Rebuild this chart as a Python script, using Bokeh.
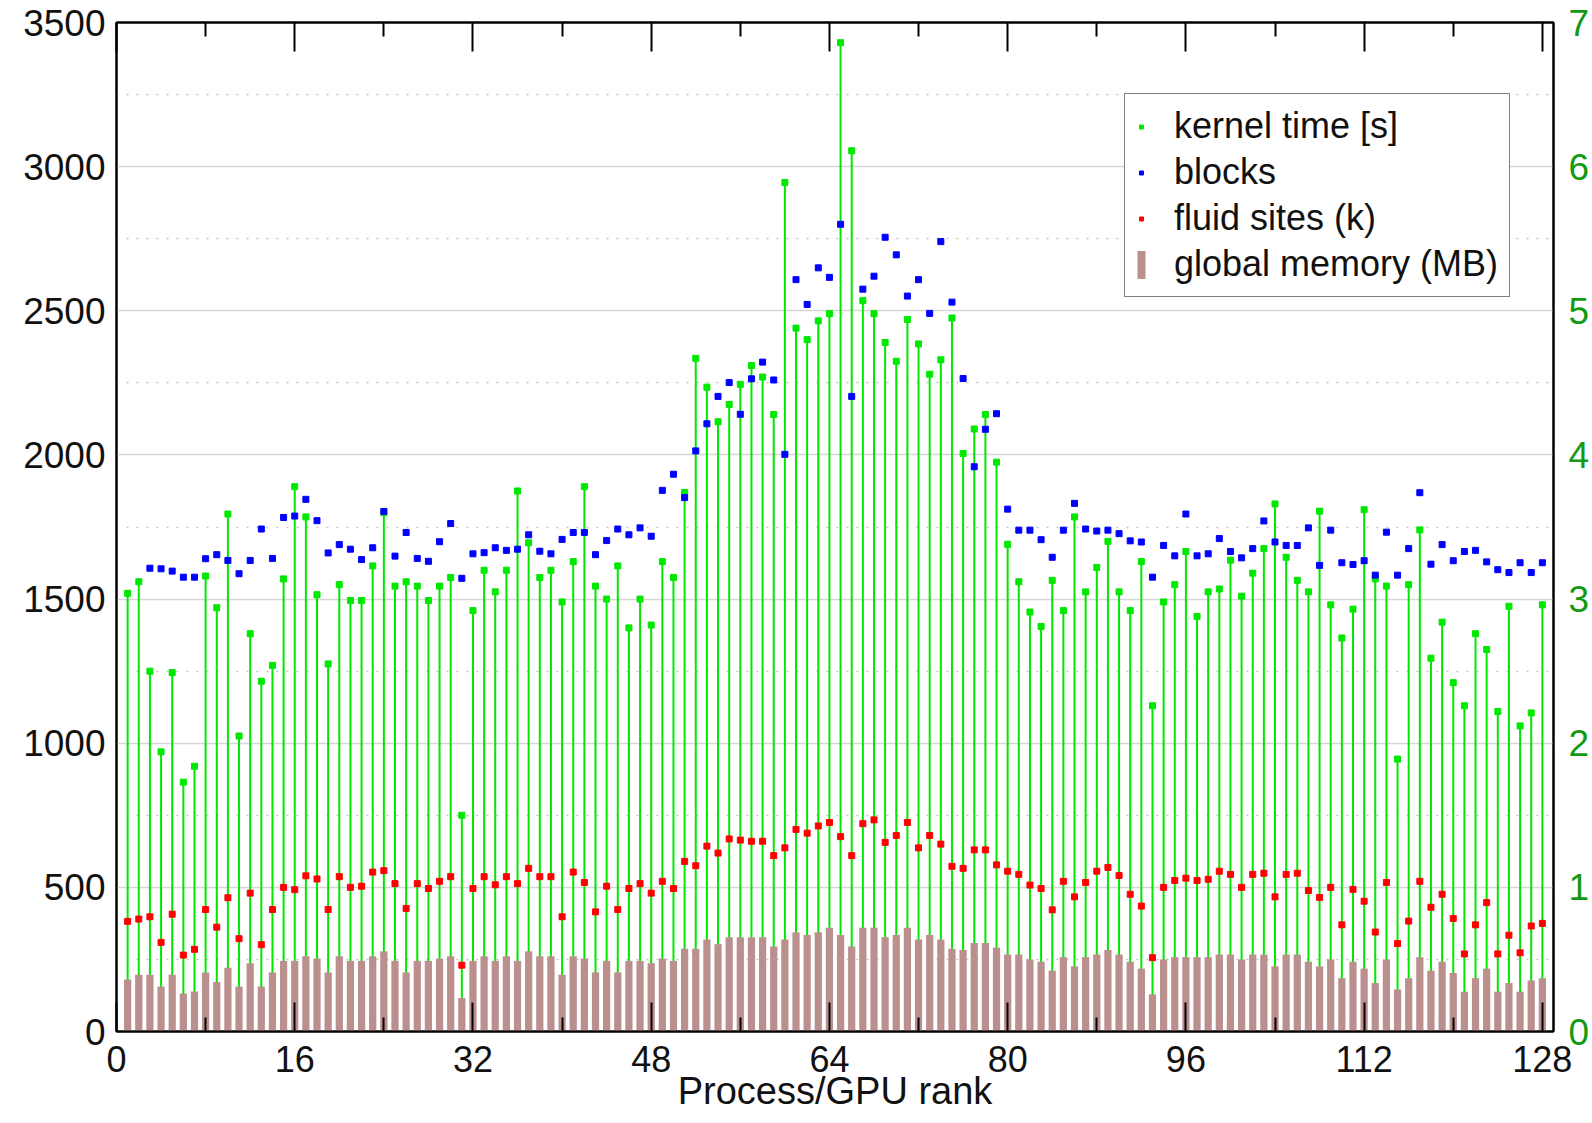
import numpy as np
from bokeh.plotting import figure
from bokeh.models import (Range1d, LinearAxis, FixedTicker, ColumnDataSource,
                          Legend, LegendItem, CustomLabelingPolicy)
from bokeh.embed import file_html
from bokeh.resources import INLINE

# ---------------- data ----------------
rank = list(range(1, 129))

kernel_time_s = [
    3.04, 3.12, 2.50, 1.94, 2.49, 1.73, 1.84, 3.16, 2.94, 3.59,
    2.05, 2.76, 2.43, 2.54, 3.14, 3.78, 3.57, 3.03, 2.55, 3.10,
    2.99, 2.99, 3.23, 3.60, 3.09, 3.12, 3.09, 2.99, 3.09, 3.15,
    1.50, 2.92, 3.20, 3.05, 3.20, 3.75, 3.39, 3.15, 3.20, 2.98,
    3.26, 3.78, 3.09, 3.00, 3.23, 2.80, 3.00, 2.82, 3.26, 3.15,
    3.74, 4.67, 4.47, 4.23, 4.35, 4.49, 4.62, 4.54, 4.28, 5.89,
    4.88, 4.80, 4.93, 4.98, 6.86, 6.11, 5.07, 4.98, 4.78, 4.65,
    4.94, 4.77, 4.56, 4.66, 4.95, 4.01, 4.18, 4.28, 3.95, 3.38,
    3.12, 2.91, 2.81, 3.13, 2.92, 3.57, 3.05, 3.22, 3.40, 3.05,
    2.92, 3.26, 2.26, 2.98, 3.10, 3.33, 2.88, 3.05, 3.07, 3.27,
    3.02, 3.18, 3.35, 3.66, 3.29, 3.13, 3.05, 3.61, 2.96, 2.73,
    2.93, 3.62, 3.14, 3.09, 1.89, 3.10, 3.48, 2.59, 2.84, 2.42,
    2.26, 2.76, 2.65, 2.22, 2.95, 2.12, 2.21, 2.96,
]

blocks = [
    np.nan, np.nan, 1607, 1605, 1597, 1576, 1576, 1640, 1654, 1634,
    1588, 1634, 1743, 1641, 1783, 1788, 1846, 1772, 1660, 1689,
    1673, 1637, 1678, 1804, 1649, 1731, 1641, 1631, 1699, 1762,
    1572, 1657, 1661, 1678, 1669, 1673, 1723, 1666, 1657, 1707,
    1731, 1731, 1654, 1703, 1743, 1723, 1747, 1718, 1877, 1933,
    1852, 2014, 2108, 2203, 2251, 2141, 2264, 2322, 2260, 2002,
    2608, 2522, 2649, 2616, 2800, 2203, 2575, 2620, 2755, 2694,
    2551, 2608, 2491, 2740, 2530, 2265, 1959, 2089, 2143, 1812,
    1739, 1739, 1706, 1645, 1739, 1832, 1743, 1736, 1739, 1727,
    1702, 1698, 1576, 1686, 1650, 1795, 1650, 1657, 1710, 1665,
    1643, 1675, 1771, 1698, 1686, 1686, 1747, 1617, 1739, 1626,
    1620, 1633, 1583, 1732, 1583, 1675, 1869, 1621, 1689, 1633,
    1665, 1669, 1629, 1602, 1592, 1626, 1592, 1626,
]

fluid_sites_k = [
    382, 390, 398, 309, 407, 265, 285, 423, 362, 464,
    322, 480, 301, 423, 500, 492, 540, 529, 423, 537,
    500, 504, 553, 558, 513, 427, 513, 496, 521, 537,
    230, 496, 537, 509, 537, 513, 566, 537, 537, 398,
    553, 517, 415, 504, 423, 496, 513, 480, 521, 496,
    590, 575, 643, 619, 668, 664, 660, 660, 610, 637,
    701, 688, 713, 725, 676, 610, 721, 734, 656, 680,
    725, 637, 680, 650, 573, 566, 630, 630, 578, 556,
    545, 508, 496, 422, 521, 467, 517, 556, 569, 541,
    476, 435, 256, 500, 524, 532, 524, 528, 556, 545,
    500, 545, 549, 467, 545, 549, 489, 465, 500, 370,
    493, 452, 345, 517, 305, 383, 521, 431, 476, 392,
    269, 370, 447, 269, 334, 273, 366, 375,
]

global_memory_mb = [
    180, 197, 197, 156, 197, 132, 139, 205, 172, 221,
    156, 237, 156, 205, 245, 245, 261, 253, 205, 261,
    245, 245, 261, 278, 245, 205, 245, 245, 253, 261,
    116, 245, 261, 245, 261, 245, 278, 261, 261, 197,
    261, 253, 205, 245, 205, 245, 245, 237, 253, 245,
    287, 287, 319, 303, 327, 327, 327, 327, 295, 319,
    344, 335, 344, 360, 335, 295, 360, 360, 327, 335,
    360, 319, 335, 319, 287, 283, 307, 307, 291, 267,
    267, 250, 242, 211, 258, 226, 258, 267, 283, 267,
    242, 218, 129, 250, 258, 258, 258, 258, 267, 267,
    250, 267, 267, 226, 267, 267, 242, 226, 250, 185,
    242, 218, 168, 250, 146, 185, 258, 211, 242, 203,
    138, 185, 218, 138, 168, 138, 177, 185,
]

x_ticks = [0, 16, 32, 48, 64, 80, 96, 112, 128]
x_minor_ticks = [8, 24, 40, 56, 72, 88, 104, 120]
y_ticks = [0, 500, 1000, 1500, 2000, 2500, 3000, 3500]
y_minor_ticks = [250, 750, 1250, 1750, 2250, 2750, 3250]
y2_ticks = [0, 1, 2, 3, 4, 5, 6, 7]

# ---------------- styling ----------------
FONT = "Liberation Sans"
GREEN = "#00e800"
BLUE = "#0000ff"
RED = "#ff0000"
BROWN = "#bc8f8f"
AXIS_GREEN = "#129a12"

src = ColumnDataSource(dict(
    rank=np.array(rank, dtype=float),
    kt=np.array(kernel_time_s, dtype=float),
    zero=np.zeros(len(rank)),
    blocks=np.array(blocks, dtype=float),
    fluid=np.array(fluid_sites_k, dtype=float),
    mem=np.array(global_memory_mb, dtype=float),
))

p = figure(width=1592, height=1123, output_backend="svg", toolbar_location=None,
           x_range=Range1d(0, 129), y_range=Range1d(0, 3500),
           min_border_left=116, min_border_right=35, min_border_top=22,
           min_border_bottom=92, background_fill_color="white",
           border_fill_color="white")
p.extra_y_ranges = {"kt": Range1d(0, 7)}
p.outline_line_color = "black"
p.outline_line_width = 2

# grid
p.xgrid.visible = False
p.ygrid.ticker = FixedTicker(ticks=y_ticks, minor_ticks=y_minor_ticks)
p.ygrid.grid_line_color = "#d6d6d6"
p.ygrid.grid_line_width = 1.6
p.ygrid.minor_grid_line_color = "#c4c4c4"
p.ygrid.minor_grid_line_width = 1.6
p.ygrid.minor_grid_line_dash = "2 8"

# bottom axis
xa = p.xaxis[0]
xa.ticker = FixedTicker(ticks=x_ticks, minor_ticks=x_minor_ticks)
xa.major_tick_in = 29
xa.major_tick_out = 0
xa.minor_tick_in = 14
xa.minor_tick_out = 0
xa.major_tick_line_width = 2
xa.minor_tick_line_width = 2
xa.axis_line_width = 2
xa.major_label_text_font = FONT
xa.major_label_text_font_size = "36px"
xa.major_label_text_color = "#111111"
xa.major_label_standoff = 14
xa.axis_label = "Process/GPU rank"
xa.axis_label_text_font = FONT
xa.axis_label_text_font_size = "38px"
xa.axis_label_text_font_style = "normal"
xa.axis_label_text_color = "#111111"
xa.axis_label_standoff = -5

# top axis (ticks only, no labels drawn)
no_labels = CustomLabelingPolicy(
    code="for (const i of [...indices.ones()]) { indices.unset(i) } return indices")
top = LinearAxis(ticker=FixedTicker(ticks=x_ticks, minor_ticks=x_minor_ticks),
                 major_tick_in=29, major_tick_out=0, minor_tick_in=14,
                 minor_tick_out=0, major_tick_line_width=2,
                 minor_tick_line_width=2, axis_line_width=2,
                 major_label_text_font_size="1px", major_label_standoff=0,
                 major_label_policy=no_labels)
p.add_layout(top, "above")

# left axis
ya = p.yaxis[0]
ya.ticker = FixedTicker(ticks=y_ticks)
ya.major_tick_in = 0
ya.major_tick_out = 0
ya.minor_tick_in = 0
ya.minor_tick_out = 0
ya.axis_line_width = 2
ya.major_label_text_font = FONT
ya.major_label_text_font_size = "37px"
ya.major_label_text_color = "#111111"
ya.major_label_standoff = 11

# right axis (kernel time)
ra = LinearAxis(y_range_name="kt", ticker=FixedTicker(ticks=y2_ticks),
                major_tick_in=0, major_tick_out=0, minor_tick_in=0,
                minor_tick_out=0, axis_line_width=2,
                major_label_text_font=FONT, major_label_text_font_size="37px",
                major_label_text_color=AXIS_GREEN, major_label_standoff=15)
p.add_layout(ra, "right")

# ---------------- glyphs ----------------
stems = p.segment(x0="rank", y0="zero", x1="rank", y1="kt", y_range_name="kt",
                  line_color=GREEN, line_width=2, source=src)
kt_pts = p.scatter("rank", "kt", y_range_name="kt", marker="square", size=6,
                   fill_color=GREEN, line_color=GREEN, source=src)
bl_pts = p.scatter("rank", "blocks", marker="square", size=6,
                   fill_color=BLUE, line_color=BLUE, source=src)
fl_pts = p.scatter("rank", "fluid", marker="square", size=6,
                   fill_color=RED, line_color=RED, source=src)
bars = p.vbar(x="rank", top="mem", bottom=0, width=0.65, fill_color=BROWN,
              line_color=None, source=src)

legend = Legend(items=[
    LegendItem(label="kernel time [s]", renderers=[kt_pts]),
    LegendItem(label="blocks", renderers=[bl_pts]),
    LegendItem(label="fluid sites (k)", renderers=[fl_pts]),
    LegendItem(label="global memory (MB)", renderers=[bars]),
], location=(1008, 734), glyph_width=10, glyph_height=35, label_height=35,
    spacing=4, padding=11, label_standoff=28,
    label_text_font=FONT, label_text_font_size="36px", label_text_color="#111111",
    border_line_color="black", border_line_width=1.5,
    background_fill_color="white", background_fill_alpha=1.0,
    margin=0)
p.add_layout(legend, "center")

open("out.html", "w").write(file_html(p, INLINE))
